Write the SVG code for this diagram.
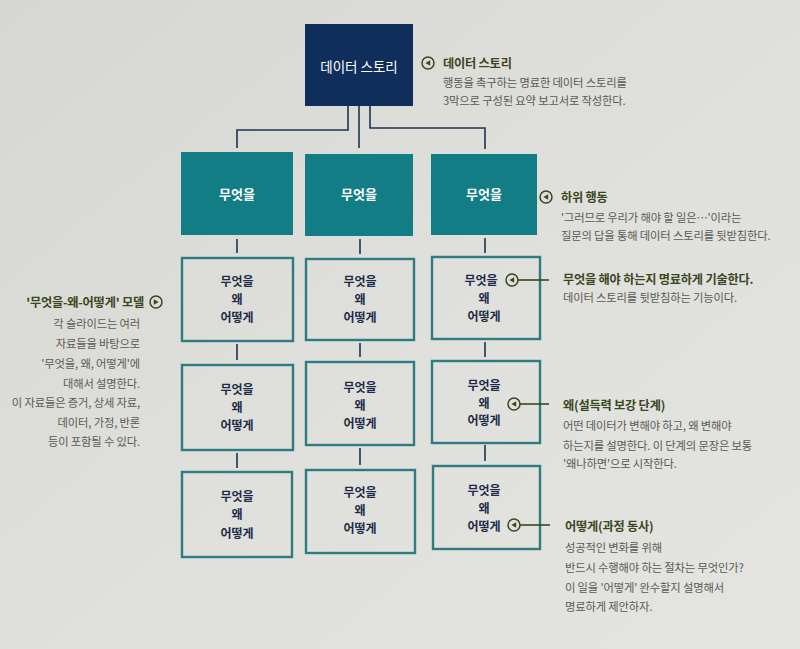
<svg xmlns="http://www.w3.org/2000/svg" width="800" height="649" viewBox="0 0 800 649">
<style>
.bg{fill:url(#bg)}
.ln{stroke:#1f3350;stroke-width:1.6;fill:none}
.navy{fill:#0f2e5c}
.teal{fill:#137d85}
.obox{fill:none;stroke:#2e7c80;stroke-width:2.4}
text{font-family:"Noto Sans CJK KR","Noto Sans",sans-serif}
.wt{fill:#ffffff;font-size:13px;font-weight:bold;text-anchor:middle}
.bt{fill:#1d2b48;font-size:12px;font-weight:bold;text-anchor:middle}
.at{fill:#3a461e;font-size:12.2px;font-weight:bold;letter-spacing:-0.2px}
.body{fill:#5a5a55;font-size:11.3px;letter-spacing:-0.15px}
.ic{fill:none;stroke:#3a461e;stroke-width:1.5}
.tri{fill:#3a461e}
.lead{stroke:#3a461e;stroke-width:1.6}
</style>
<defs>
<linearGradient id="bg" x1="0" y1="0" x2="1" y2="1">
<stop offset="0" stop-color="#d6d6d2"/>
<stop offset="0.5" stop-color="#dfdfdb"/>
<stop offset="1" stop-color="#e4e4e0"/>
</linearGradient>
<g id="iconL"><circle r="6" class="ic"/><path d="M2.2,-2.8 L-2.6,0 L2.2,2.8Z" class="tri"/></g>
<g id="iconR"><circle r="6" class="ic"/><path d="M-2.2,-2.8 L2.6,0 L-2.2,2.8Z" class="tri"/></g>
</defs>
<rect width="800" height="649" class="bg"/>

<g id="connectors">
<path class="ln" d="M348,106 V130 H237 V148"/>
<path class="ln" d="M359,106 V148"/>
<path class="ln" d="M370,106 V128 H485 V149"/>
<path class="ln" d="M237,239 V253 M237,344 V360 M237,453 V468"/>
<path class="ln" d="M360,239 V254 M360,343 V357 M360,448 V465"/>
<path class="ln" d="M485,238 V253 M485,342 V357 M485,445 V461"/>
</g>

<g id="root">
<rect x="305" y="24" width="108" height="82" class="navy"/>
<text x="359" y="72" class="wt" style="font-weight:normal;font-size:13.5px">데이터 스토리</text>
</g>

<g id="what1"><rect x="181" y="152" width="112" height="83" class="teal"/><text x="237" y="199" class="wt">무엇을</text></g>
<g id="what2"><rect x="305" y="154" width="108" height="82" class="teal"/><text x="359" y="199" class="wt">무엇을</text></g>
<g id="what3"><rect x="431" y="154" width="106" height="81" class="teal"/><text x="484" y="199" class="wt">무엇을</text></g>

<g id="r2c1"><rect x="182" y="258" width="111" height="83" class="obox"/><text x="237" y="286" class="bt">무엇을</text><text x="237" y="304" class="bt">왜</text><text x="237" y="322" class="bt">어떻게</text></g>
<g id="r2c2"><rect x="306" y="259" width="108" height="81" class="obox"/><text x="360" y="286" class="bt">무엇을</text><text x="360" y="304" class="bt">왜</text><text x="360" y="322" class="bt">어떻게</text></g>
<g id="r2c3"><rect x="432" y="257" width="108" height="82" class="obox"/><text x="481" y="285" class="bt">무엇을</text><text x="484" y="303" class="bt">왜</text><text x="484" y="321" class="bt">어떻게</text></g>

<g id="r3c1"><rect x="182" y="365" width="111" height="85" class="obox"/><text x="237" y="394" class="bt">무엇을</text><text x="237" y="412" class="bt">왜</text><text x="237" y="430" class="bt">어떻게</text></g>
<g id="r3c2"><rect x="306" y="362" width="108" height="83" class="obox"/><text x="360" y="392" class="bt">무엇을</text><text x="360" y="410" class="bt">왜</text><text x="360" y="428" class="bt">어떻게</text></g>
<g id="r3c3"><rect x="432" y="361" width="108" height="82" class="obox"/><text x="484" y="390" class="bt">무엇을</text><text x="484" y="408" class="bt">왜</text><text x="484" y="425" class="bt">어떻게</text></g>

<g id="r4c1"><rect x="182" y="472" width="110" height="85" class="obox"/><text x="237" y="501" class="bt">무엇을</text><text x="237" y="519" class="bt">왜</text><text x="237" y="538" class="bt">어떻게</text></g>
<g id="r4c2"><rect x="306" y="470" width="109" height="83" class="obox"/><text x="360" y="497" class="bt">무엇을</text><text x="360" y="515" class="bt">왜</text><text x="360" y="533" class="bt">어떻게</text></g>
<g id="r4c3"><rect x="433" y="466" width="107" height="83" class="obox"/><text x="484" y="495" class="bt">무엇을</text><text x="484" y="513" class="bt">왜</text><text x="484" y="531" class="bt">어떻게</text></g>

<g id="note-story">
<use href="#iconL" x="428" y="63"/>
<text x="443" y="68" class="at">데이터 스토리</text>
<text x="443" y="87" class="body">행동을 촉구하는 명료한 데이터 스토리를</text>
<text x="443" y="105" class="body">3막으로 구성된 요약 보고서로 작성한다.</text>
</g>

<g id="note-sub">
<use href="#iconL" x="546" y="197"/>
<text x="561" y="202" class="at">하위 행동</text>
<text x="561" y="222" class="body">'그러므로 우리가 해야 할 일은…'이라는</text>
<text x="561" y="240" class="body">질문의 답을 통해 데이터 스토리를 뒷받침한다.</text>
</g>

<g id="note-what">
<use href="#iconL" x="512" y="280"/>
<line x1="518" y1="280" x2="549" y2="280" class="lead"/>
<text x="563" y="284" class="at">무엇을 해야 하는지 명료하게 기술한다.</text>
<text x="563" y="302" class="body">데이터 스토리를 뒷받침하는 기능이다.</text>
</g>

<g id="note-why">
<use href="#iconL" x="514" y="404"/>
<line x1="520" y1="404" x2="549" y2="404" class="lead"/>
<text x="563" y="410" class="at">왜(설득력 보강 단계)</text>
<text x="563" y="430" class="body">어떤 데이터가 변해야 하고, 왜 변해야</text>
<text x="563" y="450" class="body">하는지를 설명한다. 이 단계의 문장은 보통</text>
<text x="563" y="468" class="body">'왜나하면'으로 시작한다.</text>
</g>

<g id="note-how">
<use href="#iconL" x="514" y="525"/>
<line x1="520" y1="525" x2="550" y2="525" class="lead"/>
<text x="565" y="531" class="at">어떻게(과정 동사)</text>
<text x="565" y="552" class="body">성공적인 변화를 위해</text>
<text x="565" y="572" class="body">반드시 수행해야 하는 절차는 무엇인가?</text>
<text x="565" y="592" class="body">이 일을 '어떻게' 완수할지 설명해서</text>
<text x="565" y="611" class="body">명료하게 제안하자.</text>
</g>

<g id="note-model">
<use href="#iconR" x="156" y="302"/>
<text x="144" y="307" class="at" text-anchor="end">'무엇을-왜-어떻게' 모델</text>
<g class="body" text-anchor="end">
<text x="140" y="328">각 슬라이드는 여러</text>
<text x="140" y="348">자료들을 바탕으로</text>
<text x="140" y="368">'무엇을, 왜, 어떻게'에</text>
<text x="140" y="388">대해서 설명한다.</text>
<text x="140" y="407">이 자료들은 증거, 상세 자료,</text>
<text x="140" y="427">데이터, 가정, 반론</text>
<text x="140" y="446">등이 포함될 수 있다.</text>
</g>
</g>
</svg>
